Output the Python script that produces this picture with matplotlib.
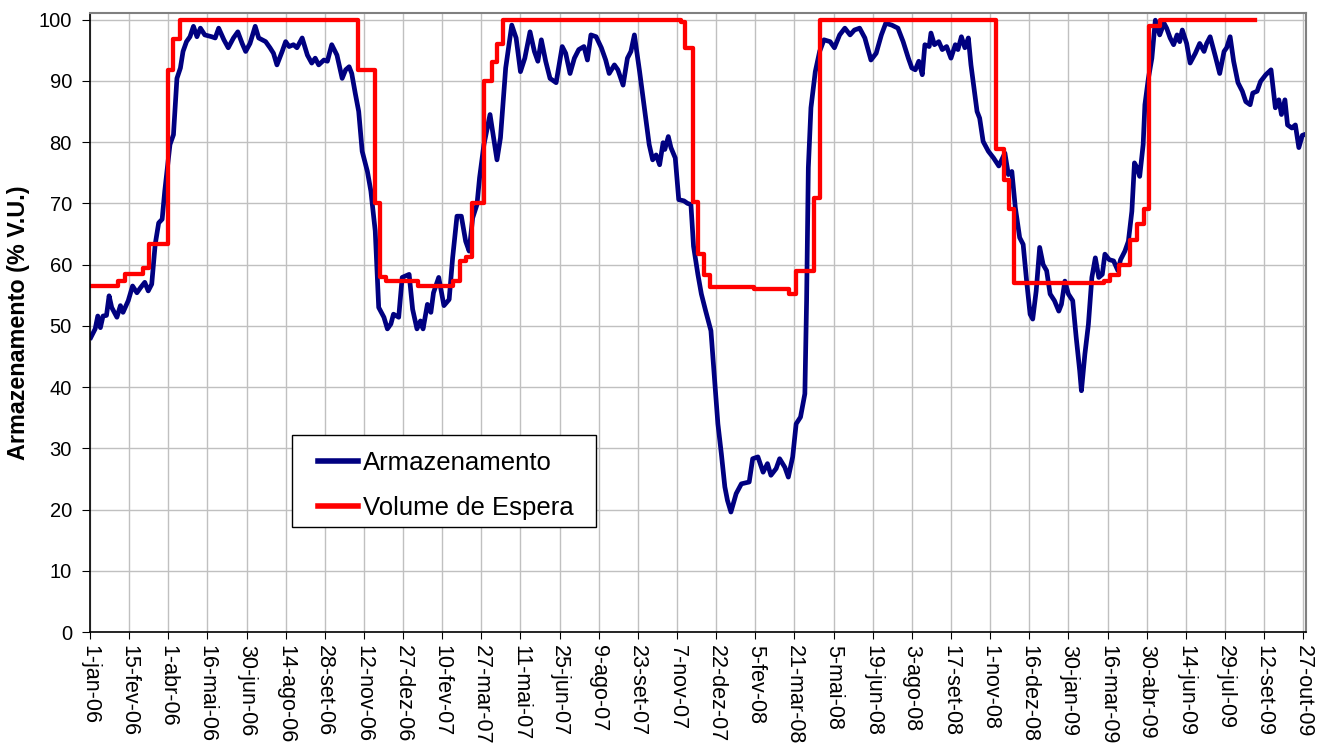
import matplotlib
matplotlib.use("Agg")
import matplotlib.pyplot as plt
from matplotlib.patches import Rectangle

plt.rcParams['font.family'] = ['Liberation Sans', 'DejaVu Sans']

# dias contados a partir de 1-jan-06
dias_arm = [1, 6, 9, 12, 15, 19, 22, 25, 31, 35, 38, 44, 49, 54, 58, 63, 67, 71, 75, 79,
            83, 86, 92, 96, 100, 104, 107, 111, 115, 119, 123, 127, 132, 140, 144, 148, 154, 159, 165, 170,
            175, 179, 184, 190, 194, 202, 207, 211, 215, 221, 225, 229, 234, 238, 244, 250, 255, 259, 263, 269,
            273, 278, 284, 290, 294, 298, 301, 305, 309, 313, 319, 323, 328, 332, 338, 342, 346, 349, 355, 359,
            367, 371, 376, 380, 383, 388, 392, 395, 401, 407, 413, 417, 422, 427, 432, 436, 440, 445, 448, 453,
            460, 468, 472, 478, 485, 490, 495, 500, 506, 511, 515, 519, 524, 529, 536, 543, 547, 552, 557, 562,
            568, 572, 576, 582, 588, 593, 597, 603, 607, 613, 618, 622, 626, 632, 637, 643, 647, 651, 655, 659,
            661, 665, 668, 673, 677, 683, 687, 691, 694, 699, 703, 708, 714, 718, 722, 726, 730, 733, 737, 743,
            749, 758, 762, 768, 774, 779, 783, 789, 793, 799, 803, 808, 812, 817, 822, 824, 826, 829, 834, 839,
            844, 851, 856, 862, 868, 874, 879, 885, 891, 898, 904, 910, 915, 922, 929, 935, 941, 945, 949, 953,
            957, 960, 965, 967, 971, 976, 980, 985, 990, 995, 998, 1002, 1006, 1010, 1013, 1016, 1020, 1023, 1027, 1033,
            1039, 1045, 1052, 1056, 1060, 1064, 1069, 1073, 1077, 1081, 1084, 1088, 1092, 1096, 1100, 1104, 1109, 1114, 1117, 1121,
            1125, 1130, 1134, 1138, 1140, 1144, 1148, 1152, 1156, 1160, 1164, 1167, 1172, 1177, 1182, 1185, 1190, 1194, 1198, 1201,
            1204, 1207, 1211, 1213, 1217, 1221, 1225, 1230, 1235, 1238, 1242, 1246, 1250, 1253, 1256, 1261, 1265, 1271, 1276, 1281,
            1284, 1288, 1294, 1299, 1304, 1307, 1311, 1315, 1320, 1325, 1329, 1334, 1337, 1342, 1346, 1352, 1358, 1363, 1367, 1370,
            1374, 1377, 1382, 1386, 1390, 1394, 1400]
armazenamento = [48.1, 49.5, 51.6, 49.7, 51.6, 51.7, 54.9, 53.0, 51.4, 53.3, 52.2, 54.1, 56.5, 55.4, 56.2, 57.1, 55.7, 56.8, 63.3, 66.8,
                 67.4, 72.0, 79.6, 81.2, 90.4, 92.1, 94.8, 96.4, 97.2, 98.9, 97.2, 98.6, 97.5, 97.2, 97.0, 98.6, 96.7, 95.4, 97.0, 98.0,
                 96.1, 94.8, 96.1, 98.9, 97.0, 96.4, 95.4, 94.5, 92.6, 94.8, 96.4, 95.6, 95.9, 95.4, 97.0, 94.2, 92.9, 93.7, 92.6, 93.4,
                 93.2, 95.9, 94.2, 90.4, 91.8, 92.3, 91.2, 88.0, 85.0, 78.5, 75.2, 72.0, 65.5, 53.0, 51.4, 49.5, 50.3, 51.9, 51.4, 57.9,
                 58.4, 52.7, 49.5, 50.8, 49.5, 53.5, 52.2, 55.4, 57.9, 53.3, 54.3, 61.1, 67.9, 67.9, 63.8, 62.2, 67.6, 69.8, 74.2, 79.6,
                 84.5, 77.1, 80.7, 92.1, 99.1, 97.0, 91.5, 93.7, 98.0, 94.8, 93.2, 96.7, 93.2, 90.4, 89.7, 95.6, 94.5, 91.2, 93.7, 95.1,
                 95.6, 93.4, 97.5, 97.2, 95.4, 93.4, 91.2, 92.6, 91.8, 89.3, 93.7, 94.8, 97.5, 91.5, 86.1, 79.6, 77.1, 77.9, 76.3, 79.9,
                 78.8, 80.9, 79.1, 77.4, 70.6, 70.4, 70.0, 69.8, 63.0, 58.4, 55.2, 52.4, 49.2, 41.6, 34.0, 29.1, 23.7, 21.5, 19.6, 22.6,
                 24.2, 24.5, 28.3, 28.6, 26.1, 27.5, 25.6, 26.7, 28.3, 26.9, 25.3, 28.6, 34.0, 35.1, 38.9, 54.1, 75.8, 85.6, 91.5, 94.8,
                 96.7, 96.4, 95.4, 97.5, 98.6, 97.5, 98.3, 98.6, 97.0, 93.4, 94.5, 97.5, 99.4, 99.1, 98.6, 96.4, 93.7, 92.1, 91.8, 93.2,
                 91.0, 95.9, 95.6, 97.8, 95.9, 96.4, 95.1, 95.6, 93.7, 95.9, 95.1, 97.2, 95.4, 97.0, 92.6, 89.3, 85.0, 83.9, 80.1, 78.5,
                 77.4, 76.1, 78.2, 74.7, 75.2, 69.3, 64.4, 63.3, 57.3, 51.9, 51.1, 55.7, 62.8, 60.0, 59.0, 55.2, 54.1, 52.4, 53.5, 57.3,
                 55.2, 54.1, 48.1, 42.7, 39.4, 45.4, 50.2, 57.9, 61.1, 57.9, 58.4, 61.7, 60.8, 60.6, 59.0, 60.8, 62.2, 63.8, 68.7, 76.6,
                 75.8, 74.4, 79.6, 86.1, 90.4, 93.7, 99.9, 97.5, 99.4, 98.6, 97.0, 95.9, 97.5, 96.4, 98.3, 96.1, 92.9, 94.5, 96.1, 94.8,
                 96.1, 97.2, 94.0, 91.2, 94.8, 95.4, 97.2, 93.2, 89.7, 88.3, 86.6, 86.1, 88.0, 88.3, 89.9, 91.0, 91.8, 85.6, 86.9, 84.5,
                 86.9, 82.8, 82.3, 82.8, 79.1, 81.1, 81.4]

dias_espera = [0, 32, 40, 61, 68, 90, 96, 104, 308, 328, 334, 340, 377, 418, 426, 432, 439, 453, 462, 468,
               475, 680, 684, 693, 699, 706, 713, 763, 804, 812, 833, 839, 1042, 1051, 1057, 1063, 1166, 1173, 1183, 1196,
               1204, 1212, 1218, 1230, 1340]
volume_espera = [56.5, 57.3, 58.5, 59.4, 63.4, 91.7, 96.9, 100, 91.7, 70.0, 57.9, 57.3, 56.5, 57.4, 60.6, 61.3, 70.0, 90.0, 93.0, 96.0,
                 100, 99.6, 95.4, 70.2, 61.8, 58.3, 56.3, 56.0, 55.2, 59.0, 70.8, 100, 78.8, 73.8, 69.0, 57.0, 57.4, 58.3, 60.0, 64.0,
                 66.7, 69.0, 99.0, 100, 100]

tick_dias = list(range(0, 1396, 45))
tick_labels = ['1-jan-06', '15-fev-06', '1-abr-06', '16-mai-06', '30-jun-06', '14-ago-06', '28-set-06', '12-nov-06',
               '27-dez-06', '10-fev-07', '27-mar-07', '11-mai-07', '25-jun-07', '9-ago-07', '23-set-07', '7-nov-07',
               '22-dez-07', '5-fev-08', '21-mar-08', '5-mai-08', '19-jun-08', '3-ago-08', '17-set-08', '1-nov-08',
               '16-dez-08', '30-jan-09', '16-mar-09', '30-abr-09', '14-jun-09', '29-jul-09', '12-set-09', '27-out-09']

fig = plt.figure(figsize=(13.23, 7.48), dpi=100)
ax = fig.add_axes([0.068, 0.155, 0.919, 0.827])

ax.plot(dias_arm, armazenamento, color='#000080', lw=3.4, label='Armazenamento', solid_joinstyle='round')
ax.plot(dias_espera, volume_espera, color='#ff0000', lw=3.1, drawstyle='steps-post', label='Volume de Espera')

ax.set_xlim(0, 1398)
ax.set_ylim(0, 101)
ax.set_yticks(range(0, 101, 10))
ax.set_xticks(tick_dias)
ax.set_xticklabels(tick_labels, rotation=270, ha='center', va='top')
ax.tick_params(axis='x', labelsize=15.5, length=5, pad=4, direction='out')
ax.tick_params(axis='y', labelsize=14.5, length=6, pad=7, direction='out')
ax.grid(True, color='#c0c0c0', lw=1)
ax.set_axisbelow(True)

ax.set_ylabel('Armazenamento (% V.U.)', fontsize=16.8, fontweight='bold', labelpad=6)

for s in ['left', 'bottom']:
    ax.spines[s].set_color('black')
    ax.spines[s].set_linewidth(1.2)
for s in ['top', 'right']:
    ax.spines[s].set_color('#808080')
    ax.spines[s].set_linewidth(1.5)

# caixa da legenda
ax.add_patch(Rectangle((0.1661, 0.1697), 0.2500, 0.1488, transform=ax.transAxes,
                       facecolor='white', edgecolor='black', lw=1.0, zorder=4))
leg = ax.legend(loc='upper left', bbox_to_anchor=(0.1875, 0.292), fontsize=18.5, frameon=False,
                borderpad=0, labelspacing=0.81, handlelength=1.56, handletextpad=0.18, borderaxespad=0)
leg.set_zorder(5)
for l in leg.get_lines():
    l.set_linewidth(4)

fig.savefig('out.png', dpi=100)
